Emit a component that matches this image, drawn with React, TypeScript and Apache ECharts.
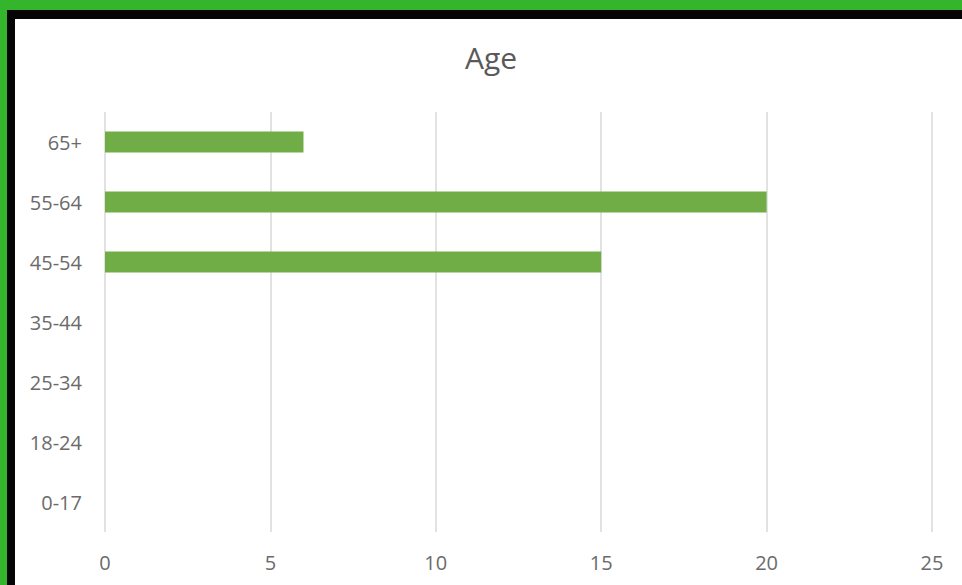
import React, { useEffect, useRef } from "react";
import * as echarts from "echarts";

const categories = ["0-17", "18-24", "25-34", "35-44", "45-54", "55-64", "65+"];
const values = [0, 0, 0, 0, 15, 20, 6];
const title = "Age";

export default function App() {
  const ref = useRef<HTMLDivElement>(null);
  useEffect(() => {
    document.body.style.margin = "0";
    const chart = echarts.init(ref.current!, null, { renderer: "svg" });
    chart.setOption({
      animation: false,
      backgroundColor: "#ffffff",
      grid: { left: 105, right: 30, top: 112, bottom: 53 },
      xAxis: {
        type: "value",
        min: 0,
        max: 25,
        interval: 5,
        axisLine: { show: false },
        axisTick: { show: false },
        splitLine: { show: true, lineStyle: { color: "#d9d9d9", width: 1.5 } },
        axisLabel: { color: "#6b6b6b", fontSize: 20, fontFamily: "Open Sans", margin: 20 },
      },
      yAxis: {
        type: "category",
        data: categories,
        axisLine: { show: false },
        axisTick: { show: false },
        splitLine: { show: false },
        axisLabel: { color: "#6b6b6b", fontSize: 20, fontFamily: "Open Sans", margin: 23 },
      },
      series: [
        {
          type: "bar",
          data: values,
          barWidth: 21,
          itemStyle: { color: "#70ad47" },
        },
      ],
      graphic: [
        {
          type: "text",
          x: 491,
          y: 57,
          style: {
            text: title,
            fill: "#595959",
            fontSize: 30,
            fontFamily: "Open Sans",
            textAlign: "center",
            textVerticalAlign: "middle",
          },
        },
        { type: "rect", shape: { x: 0, y: 0, width: 962, height: 10 }, style: { fill: "#34b52b" } },
        { type: "rect", shape: { x: 0, y: 0, width: 7, height: 585 }, style: { fill: "#34b52b" } },
        { type: "rect", shape: { x: 7, y: 10, width: 955, height: 9 }, style: { fill: "#050505" } },
        { type: "rect", shape: { x: 7, y: 10, width: 8, height: 575 }, style: { fill: "#050505" } },
      ],
    });
    return () => chart.dispose();
  }, []);
  return <div ref={ref} style={{ position: "absolute", left: 0, top: 0, width: 962, height: 585 }} />;
}
